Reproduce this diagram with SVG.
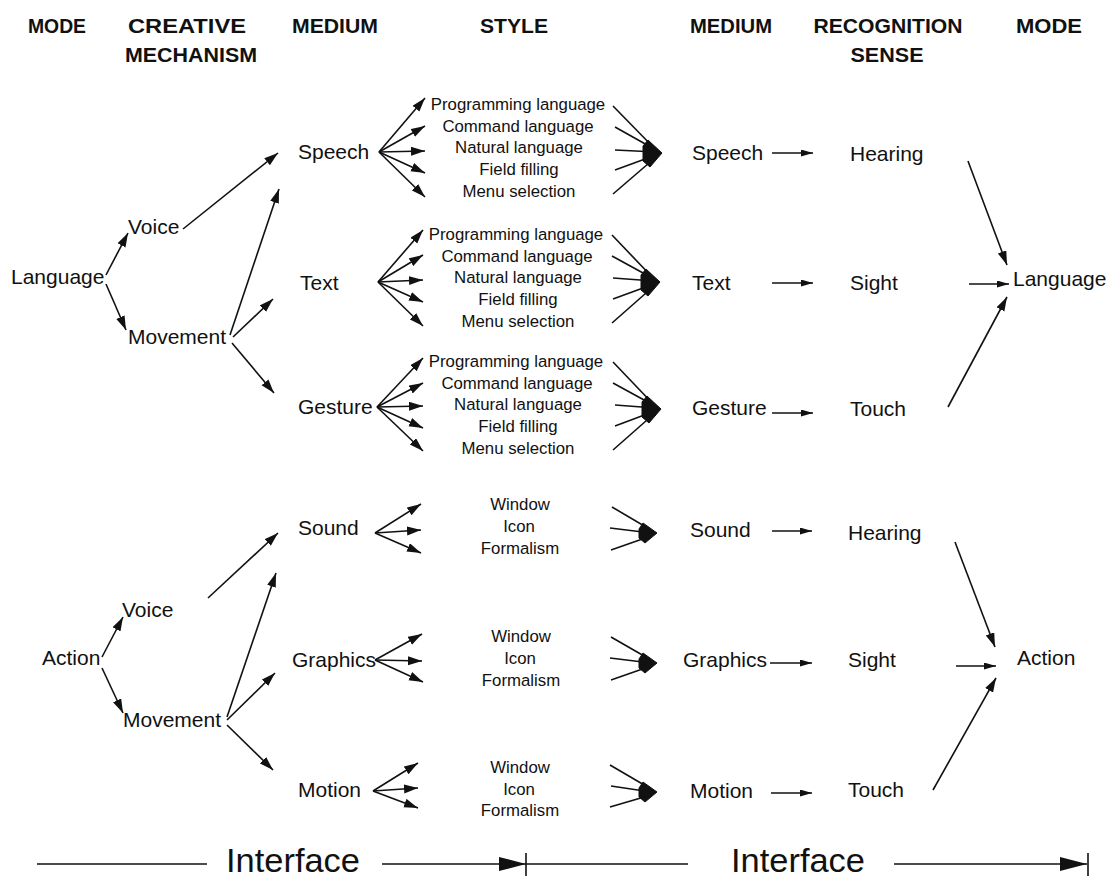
<svg xmlns="http://www.w3.org/2000/svg" width="1110" height="878" viewBox="0 0 1110 878">
  <style>
    .hdr { font-family: "Liberation Sans", Arial, sans-serif; font-weight: bold; font-size: 21px; fill: #111; text-anchor: middle; }
    .lbl { font-family: "Liberation Sans", Arial, sans-serif; font-size: 21px; fill: #111; }
    .sty { font-family: "Liberation Sans", Arial, sans-serif; font-size: 16.8px; fill: #111; text-anchor: middle; }
    .big { font-family: "Liberation Sans", Arial, sans-serif; font-size: 34px; fill: #111; }
    .ln { stroke: #111; stroke-width: 1.6; fill: none; }
    .blob { fill: #111; stroke: #111; stroke-width: 1; stroke-linejoin: round; }
    .a { marker-end: url(#ah); }
    .s { marker-end: url(#sh); }
    .c { marker-end: url(#ch); }
    .b { marker-end: url(#bh); }
  </style>
  <defs>
    <marker id="ah" markerUnits="userSpaceOnUse" markerWidth="15" markerHeight="10" refX="14" refY="4.5" orient="auto">
      <path d="M0,0 L14,4.5 L0,9 Z" fill="#111"/>
    </marker>
    <marker id="sh" markerUnits="userSpaceOnUse" markerWidth="13" markerHeight="8" refX="12" refY="3.5" orient="auto">
      <path d="M0,0 L12,3.5 L0,7 Z" fill="#111"/>
    </marker>
    <marker id="ch" markerUnits="userSpaceOnUse" markerWidth="17" markerHeight="13" refX="16" refY="6" orient="auto">
      <path d="M0,0 L16,6 L0,12 Z" fill="#111"/>
    </marker>
    <marker id="bh" markerUnits="userSpaceOnUse" markerWidth="28" markerHeight="16" refX="27" refY="7" orient="auto">
      <path d="M0,0 L27,7 L0,14 Z" fill="#111"/>
    </marker>
    <!-- merged arrowheads where several style lines meet one medium -->
    <path id="blob5" d="M-14,-13 L0,0 L-12,14 L-19,8 L-19,-7 Z"/>
    <path id="blob3" d="M-14,-10 L0,0 L-12,10 L-18,5 L-18,-4 Z"/>
  </defs>

  <rect width="1110" height="878" fill="#fff"/>

  <!-- column headings -->
  <g id="headings">
    <text class="hdr" x="57" y="33" textLength="58" lengthAdjust="spacingAndGlyphs">MODE</text>
    <text class="hdr" x="187" y="33" textLength="118" lengthAdjust="spacingAndGlyphs">CREATIVE</text>
    <text class="hdr" x="191" y="62" textLength="132" lengthAdjust="spacingAndGlyphs">MECHANISM</text>
    <text class="hdr" x="335" y="33" textLength="86" lengthAdjust="spacingAndGlyphs">MEDIUM</text>
    <text class="hdr" x="514" y="33" textLength="68" lengthAdjust="spacingAndGlyphs">STYLE</text>
    <text class="hdr" x="731" y="33" textLength="82" lengthAdjust="spacingAndGlyphs">MEDIUM</text>
    <text class="hdr" x="888" y="33" textLength="149" lengthAdjust="spacingAndGlyphs">RECOGNITION</text>
    <text class="hdr" x="887" y="62" textLength="73" lengthAdjust="spacingAndGlyphs">SENSE</text>
    <text class="hdr" x="1049" y="33" textLength="66" lengthAdjust="spacingAndGlyphs">MODE</text>
  </g>

  <!-- language half -->
  <g id="mode-language"><text class="lbl" x="11" y="284">Language</text></g>
  <g id="lang-voice"><text class="lbl" x="128" y="234">Voice</text></g>
  <g id="lang-movement"><text class="lbl" x="128" y="344">Movement</text></g>
  <g id="speech-in"><text class="lbl" x="298" y="159">Speech</text></g>
  <g id="text-in"><text class="lbl" x="300" y="290">Text</text></g>
  <g id="gesture-in"><text class="lbl" x="298" y="414">Gesture</text></g>

  <g id="style-speech">
    <text class="sty" x="518" y="110">Programming language</text>
    <text class="sty" x="518" y="132">Command language</text>
    <text class="sty" x="519" y="153">Natural language</text>
    <text class="sty" x="519" y="175">Field filling</text>
    <text class="sty" x="519" y="197">Menu selection</text>
  </g>
  <g id="style-text">
    <text class="sty" x="516" y="240">Programming language</text>
    <text class="sty" x="517" y="262">Command language</text>
    <text class="sty" x="518" y="283">Natural language</text>
    <text class="sty" x="518" y="305">Field filling</text>
    <text class="sty" x="518" y="327">Menu selection</text>
  </g>
  <g id="style-gesture">
    <text class="sty" x="516" y="367">Programming language</text>
    <text class="sty" x="517" y="389">Command language</text>
    <text class="sty" x="518" y="410">Natural language</text>
    <text class="sty" x="518" y="432">Field filling</text>
    <text class="sty" x="518" y="454">Menu selection</text>
  </g>

  <g id="speech-out"><text class="lbl" x="692" y="160">Speech</text></g>
  <g id="text-out"><text class="lbl" x="692" y="290">Text</text></g>
  <g id="gesture-out"><text class="lbl" x="692" y="415">Gesture</text></g>
  <g id="sense-hearing-1"><text class="lbl" x="850" y="161">Hearing</text></g>
  <g id="sense-sight-1"><text class="lbl" x="850" y="290">Sight</text></g>
  <g id="sense-touch-1"><text class="lbl" x="850" y="416">Touch</text></g>
  <g id="mode-language-out"><text class="lbl" x="1013" y="286">Language</text></g>

  <!-- action half -->
  <g id="mode-action"><text class="lbl" x="42" y="665">Action</text></g>
  <g id="act-voice"><text class="lbl" x="122" y="617">Voice</text></g>
  <g id="act-movement"><text class="lbl" x="123" y="727">Movement</text></g>
  <g id="sound-in"><text class="lbl" x="298" y="535">Sound</text></g>
  <g id="graphics-in"><text class="lbl" x="292" y="667">Graphics</text></g>
  <g id="motion-in"><text class="lbl" x="298" y="797">Motion</text></g>

  <g id="style-sound">
    <text class="sty" x="520" y="510">Window</text>
    <text class="sty" x="519" y="532">Icon</text>
    <text class="sty" x="520" y="554">Formalism</text>
  </g>
  <g id="style-graphics">
    <text class="sty" x="521" y="642">Window</text>
    <text class="sty" x="520" y="664">Icon</text>
    <text class="sty" x="521" y="686">Formalism</text>
  </g>
  <g id="style-motion">
    <text class="sty" x="520" y="773">Window</text>
    <text class="sty" x="519" y="795">Icon</text>
    <text class="sty" x="520" y="816">Formalism</text>
  </g>

  <g id="sound-out"><text class="lbl" x="690" y="537">Sound</text></g>
  <g id="graphics-out"><text class="lbl" x="683" y="667">Graphics</text></g>
  <g id="motion-out"><text class="lbl" x="690" y="798">Motion</text></g>
  <g id="sense-hearing-2"><text class="lbl" x="848" y="540">Hearing</text></g>
  <g id="sense-sight-2"><text class="lbl" x="848" y="667">Sight</text></g>
  <g id="sense-touch-2"><text class="lbl" x="848" y="797">Touch</text></g>
  <g id="mode-action-out"><text class="lbl" x="1017" y="665">Action</text></g>

  <!-- interface bar -->
  <g id="interface-left"><text class="big" x="226" y="872" textLength="134" lengthAdjust="spacingAndGlyphs">Interface</text></g>
  <g id="interface-right"><text class="big" x="731" y="872" textLength="134" lengthAdjust="spacingAndGlyphs">Interface</text></g>

  <g id="connectors">
    <!-- language: mode to mechanism to medium -->
    <line class="ln a" x1="106" y1="275" x2="128" y2="233"/>
    <line class="ln a" x1="106" y1="284" x2="126" y2="330"/>
    <line class="ln a" x1="183" y1="229" x2="278" y2="153"/>
    <line class="ln a" x1="230" y1="335" x2="279" y2="189"/>
    <line class="ln a" x1="233" y1="337" x2="273" y2="299"/>
    <line class="ln a" x1="232" y1="343" x2="274" y2="393"/>

    <!-- speech fan out -->
    <line class="ln a" x1="379" y1="152" x2="425" y2="98"/>
    <line class="ln a" x1="379" y1="152" x2="425" y2="126"/>
    <line class="ln a" x1="379" y1="152" x2="425" y2="151"/>
    <line class="ln a" x1="379" y1="152" x2="425" y2="173"/>
    <line class="ln a" x1="379" y1="152" x2="425" y2="197"/>
    <!-- text fan out -->
    <line class="ln a" x1="378" y1="282" x2="423" y2="230"/>
    <line class="ln a" x1="378" y1="282" x2="423" y2="255"/>
    <line class="ln a" x1="378" y1="282" x2="423" y2="280"/>
    <line class="ln a" x1="378" y1="282" x2="423" y2="302"/>
    <line class="ln a" x1="378" y1="282" x2="423" y2="326"/>
    <!-- gesture fan out -->
    <line class="ln a" x1="377" y1="407" x2="423" y2="358"/>
    <line class="ln a" x1="377" y1="407" x2="423" y2="383"/>
    <line class="ln a" x1="377" y1="407" x2="423" y2="406"/>
    <line class="ln a" x1="377" y1="407" x2="423" y2="428"/>
    <line class="ln a" x1="377" y1="407" x2="423" y2="451"/>

    <!-- styles converging on medium -->
    <line class="ln" x1="613" y1="106" x2="656" y2="150"/>
    <line class="ln" x1="615" y1="127" x2="656" y2="150"/>
    <line class="ln" x1="615" y1="150" x2="656" y2="152"/>
    <line class="ln" x1="615" y1="170" x2="656" y2="155"/>
    <line class="ln" x1="613" y1="194" x2="656" y2="157"/>
    <use href="#blob5" class="blob" transform="translate(662,153)"/>

    <line class="ln" x1="612" y1="235" x2="654" y2="279"/>
    <line class="ln" x1="612" y1="256" x2="654" y2="279"/>
    <line class="ln" x1="613" y1="278" x2="654" y2="281"/>
    <line class="ln" x1="613" y1="299" x2="654" y2="284"/>
    <line class="ln" x1="612" y1="323" x2="654" y2="286"/>
    <use href="#blob5" class="blob" transform="translate(660,282)"/>

    <line class="ln" x1="613" y1="362" x2="655" y2="406"/>
    <line class="ln" x1="613" y1="383" x2="655" y2="406"/>
    <line class="ln" x1="615" y1="405" x2="655" y2="408"/>
    <line class="ln" x1="615" y1="426" x2="655" y2="411"/>
    <line class="ln" x1="613" y1="450" x2="655" y2="413"/>
    <use href="#blob5" class="blob" transform="translate(661,409)"/>

    <!-- medium to sense to mode (language) -->
    <line class="ln s" x1="772" y1="153" x2="813" y2="153"/>
    <line class="ln s" x1="772" y1="283" x2="813" y2="283"/>
    <line class="ln s" x1="772" y1="413" x2="813" y2="413"/>
    <line class="ln a" x1="968" y1="161" x2="1007" y2="265"/>
    <line class="ln s" x1="969" y1="284" x2="1009" y2="284"/>
    <line class="ln a" x1="948" y1="407" x2="1007" y2="297"/>

    <!-- action: mode to mechanism to medium -->
    <line class="ln a" x1="102" y1="657" x2="123" y2="617"/>
    <line class="ln a" x1="102" y1="668" x2="123" y2="713"/>
    <line class="ln a" x1="208" y1="598" x2="278" y2="533"/>
    <line class="ln a" x1="227" y1="717" x2="276" y2="573"/>
    <line class="ln a" x1="227" y1="720" x2="275" y2="673"/>
    <line class="ln a" x1="227" y1="725" x2="273" y2="770"/>

    <!-- sound / graphics / motion fans -->
    <line class="ln a" x1="375" y1="533" x2="421" y2="504"/>
    <line class="ln a" x1="375" y1="533" x2="421" y2="530"/>
    <line class="ln a" x1="375" y1="533" x2="421" y2="553"/>
    <line class="ln a" x1="375" y1="660" x2="422" y2="634"/>
    <line class="ln a" x1="375" y1="660" x2="422" y2="661"/>
    <line class="ln a" x1="375" y1="660" x2="423" y2="682"/>
    <line class="ln a" x1="373" y1="791" x2="418" y2="763"/>
    <line class="ln a" x1="373" y1="791" x2="418" y2="788"/>
    <line class="ln a" x1="373" y1="791" x2="418" y2="808"/>

    <line class="ln" x1="612" y1="507" x2="651" y2="530"/>
    <line class="ln" x1="610" y1="528" x2="651" y2="533"/>
    <line class="ln" x1="611" y1="550" x2="651" y2="536"/>
    <use href="#blob3" class="blob" transform="translate(657,533)"/>
    <line class="ln" x1="611" y1="637" x2="651" y2="660"/>
    <line class="ln" x1="610" y1="658" x2="651" y2="663"/>
    <line class="ln" x1="611" y1="680" x2="651" y2="666"/>
    <use href="#blob3" class="blob" transform="translate(657,663)"/>
    <line class="ln" x1="610" y1="765" x2="651" y2="789"/>
    <line class="ln" x1="611" y1="786" x2="651" y2="792"/>
    <line class="ln" x1="610" y1="807" x2="651" y2="795"/>
    <use href="#blob3" class="blob" transform="translate(657,792)"/>

    <!-- medium to sense to mode (action) -->
    <line class="ln s" x1="772" y1="531" x2="812" y2="531"/>
    <line class="ln s" x1="770" y1="663" x2="812" y2="663"/>
    <line class="ln s" x1="771" y1="793" x2="812" y2="793"/>
    <line class="ln a" x1="955" y1="542" x2="995" y2="647"/>
    <line class="ln s" x1="956" y1="666" x2="996" y2="666"/>
    <line class="ln a" x1="933" y1="790" x2="996" y2="678"/>

    <!-- interface extent lines -->
    <line class="ln" x1="37" y1="864" x2="207" y2="864"/>
    <line class="ln b" x1="382" y1="864" x2="526" y2="864"/>
    <line class="ln" x1="526" y1="853" x2="526" y2="876"/>
    <line class="ln" x1="526" y1="864" x2="688" y2="864"/>
    <line class="ln b" x1="894" y1="864" x2="1087" y2="864"/>
    <line class="ln" x1="1088" y1="853" x2="1088" y2="876"/>
  </g>
</svg>
